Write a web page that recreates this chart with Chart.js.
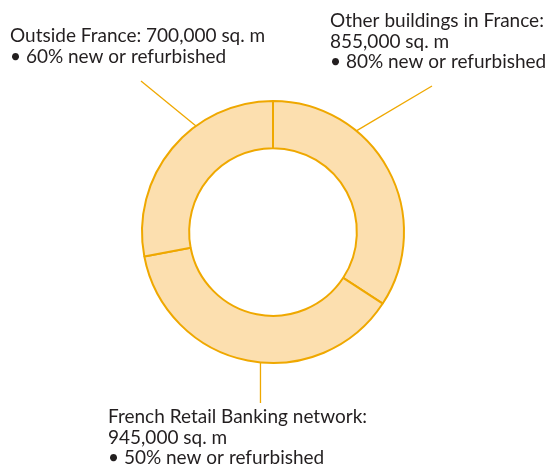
<!DOCTYPE html>
<html>
<head>
<meta charset="utf-8">
<script src="https://cdn.jsdelivr.net/npm/chart.js@4.4.0/dist/chart.umd.min.js"></script>
<style>
  html, body { margin: 0; padding: 0; background: #fff; }
  #wrap { width: 550px; height: 469px; position: relative; }
</style>
</head>
<body>
<div id="wrap"><canvas id="mycanvas"></canvas></div>
<script>
// floor space per building category, sq. m
var categories = ['Other buildings in France', 'French Retail Banking network', 'Outside France'];
var surfaces = [855000, 945000, 700000];
var renewed = [80, 50, 60]; // % new or refurbished

// text lines for each segment label
var labelLines = [
  ['Other buildings in France:', '855,000 sq. m', '\u2022 80% new or refurbished'],
  ['French Retail Banking network:', '945,000 sq. m', '\u2022 50% new or refurbished'],
  ['Outside France: 700,000 sq. m', '\u2022 60% new or refurbished']
];

// where each callout goes: angle on the ring (deg from top), end of the leader, text origin
var callouts = [
  { angle: 39.5, end: [432, 86], text: [330, 27] },
  { angle: 185.5, end: [260.5, 403], text: [108, 423] },
  { angle: 324, end: [141, 81], text: [10, 42] }
];

var calloutPlugin = {
  id: 'callouts',
  afterDraw: function(chart) {
    var ctx = chart.ctx;
    var arc = chart.getDatasetMeta(0).data[0];
    var cx = arc.x, cy = arc.y, r = arc.outerRadius;
    ctx.save();
    ctx.strokeStyle = '#EFA800';
    ctx.lineWidth = 1.3;
    for (var i = 0; i < callouts.length; i++) {
      var c = callouts[i];
      var a = c.angle * Math.PI / 180;
      ctx.beginPath();
      ctx.moveTo(cx + r * Math.sin(a), cy - r * Math.cos(a));
      ctx.lineTo(c.end[0], c.end[1]);
      ctx.stroke();
    }
    ctx.fillStyle = '#231f20';
    ctx.font = '19px Lato';
    ctx.textBaseline = 'alphabetic';
    for (var j = 0; j < callouts.length; j++) {
      var lines = labelLines[j];
      for (var k = 0; k < lines.length; k++) {
        ctx.fillText(lines[k], callouts[j].text[0], callouts[j].text[1] + k * 20.5);
      }
    }
    ctx.restore();
  }
};

var chartdata = {
  labels: categories,
  datasets: [
    {
      data: surfaces,
      backgroundColor: '#FCDFAF',
      borderColor: '#EFA800',
      borderWidth: 2,
      hoverOffset: 0
    }
  ]
};

new Chart(document.getElementById('mycanvas'), {
  type: 'doughnut',
  data: chartdata,
  plugins: [calloutPlugin],
  options: {
    responsive: true,
    maintainAspectRatio: false,
    animation: false,
    cutout: '64%',
    layout: {
      padding: { left: 141, right: 145, top: 100, bottom: 105 }
    },
    plugins: {
      legend: { display: false },
      tooltip: { enabled: false }
    }
  }
});
</script>
</body>
</html>
